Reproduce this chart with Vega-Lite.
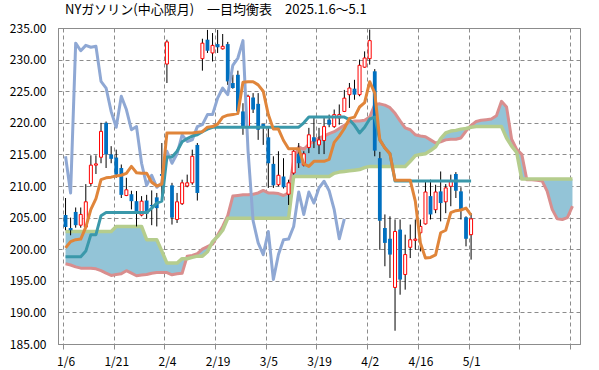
{
"$schema": "https://vega.github.io/schema/vega-lite/v6.json",
"width": 522, "height": 316,
"autosize": "none",
"padding": {"left": 58, "top": 28, "right": 19, "bottom": 26},
"background": "white",
"title": {"text": "NYガソリン(中心限月)　一目均衡表　2025.1.6～5.1", "anchor": "start", "frame": "group", "dx": 7, "offset": 5, "fontSize": 13, "fontWeight": "normal", "font": "Noto Sans CJK JP", "color": "#000000"},
"config": {"view": {"stroke": "#8c8c8c", "strokeWidth": 1},
  "axisY": {"labelFont": "Noto Sans CJK JP", "labelFontSize": 12, "labelColor": "#000000", "ticks": false, "labelPadding": 12,
        "grid": true, "gridColor": "#8c8c8c", "gridDash": [4, 3], "gridWidth": 1, "domainColor": "#8c8c8c", "tickCount": 10}},
"data": {"values": [
{"i":0,"o":205.4,"h":208.1,"l":203.0,"c":203.5,"tk":200.2,"kj":198.8,"ck":214.7,"sa":197.7,"sb":202.8},
{"i":1,"o":203.35,"h":205.0,"l":202.2,"c":203.0,"tk":201.2,"kj":198.8,"ck":208.9,"sa":197.5,"sb":202.8},
{"i":2,"o":205.9,"h":206.6,"l":203.4,"c":203.8,"tk":201.5,"kj":198.8,"ck":232.6,"sa":197.2,"sb":202.8},
{"i":3,"o":203.8,"h":206.6,"l":203.4,"c":205.5,"tk":201.6,"kj":198.8,"ck":231.4,"sa":197.0,"sb":202.8},
{"i":4,"o":203.5,"h":210.3,"l":203.4,"c":207.5,"tk":203.5,"kj":199.7,"ck":232.25,"sa":197.0,"sb":202.8},
{"i":5,"o":210.4,"h":214.85,"l":209.95,"c":213.3,"tk":206.3,"kj":202.3,"ck":231.95,"sa":197.0,"sb":202.8},
{"i":6,"o":213.3,"h":214.85,"l":211.9,"c":213.5,"tk":208.0,"kj":202.3,"ck":232.1,"sa":196.9,"sb":202.8},
{"i":7,"o":214.55,"h":220.0,"l":213.6,"c":218.65,"tk":211.0,"kj":205.3,"ck":226.55,"sa":196.6,"sb":202.8},
{"i":8,"o":220.0,"h":220.2,"l":212.85,"c":215.0,"tk":211.3,"kj":205.8,"ck":225.5,"sa":196.2,"sb":202.8},
{"i":9,"o":215.0,"h":216.3,"l":213.6,"c":214.3,"tk":211.4,"kj":205.8,"ck":221.8,"sa":195.85,"sb":202.8},
{"i":10,"o":214.5,"h":215.75,"l":211.3,"c":211.8,"tk":211.6,"kj":205.8,"ck":219.3,"sa":196.0,"sb":203.6},
{"i":11,"o":212.85,"h":213.4,"l":208.1,"c":208.6,"tk":211.7,"kj":205.8,"ck":224.2,"sa":196.1,"sb":203.6},
{"i":12,"o":208.5,"h":211.3,"l":208.4,"c":209.4,"tk":212.0,"kj":205.8,"ck":222.1,"sa":196.6,"sb":203.6},
{"i":13,"o":208.7,"h":209.25,"l":206.3,"c":207.6,"tk":213.1,"kj":205.8,"ck":218.9,"sa":196.2,"sb":203.6},
{"i":14,"o":207.6,"h":209.2,"l":203.6,"c":206.0,"tk":212.1,"kj":205.8,"ck":219.4,"sa":195.8,"sb":203.6},
{"i":15,"o":205.4,"h":208.4,"l":205.2,"c":207.6,"tk":212.0,"kj":205.8,"ck":213.6,"sa":195.9,"sb":203.6},
{"i":16,"o":207.7,"h":208.6,"l":204.8,"c":205.6,"tk":212.0,"kj":205.8,"ck":210.1,"sa":196.0,"sb":201.5},
{"i":17,"o":207.0,"h":209.3,"l":203.8,"c":206.8,"tk":210.6,"kj":206.5,"ck":211.7,"sa":196.2,"sb":201.5},
{"i":18,"o":208.2,"h":208.9,"l":203.6,"c":206.5,"tk":210.0,"kj":207.3,"ck":209.8,"sa":196.3,"sb":201.5},
{"i":19,"o":211.9,"h":216.8,"l":207.5,"c":211.6,"tk":210.3,"kj":207.6,"ck":210.5,"sa":196.3,"sb":199.7},
{"i":20,"o":229.3,"h":233.15,"l":226.3,"c":232.8,"tk":218.4,"kj":214.6,"ck":215.5,"sa":196.3,"sb":197.8},
{"i":21,"o":210.1,"h":210.5,"l":203.9,"c":205.0,"tk":218.4,"kj":214.6,"ck":213.6,"sa":195.95,"sb":197.8},
{"i":22,"o":204.7,"h":208.9,"l":204.15,"c":207.5,"tk":218.4,"kj":215.5,"ck":215.1,"sa":196.1,"sb":197.8},
{"i":23,"o":207.2,"h":211.0,"l":207.0,"c":210.5,"tk":218.4,"kj":217.0,"ck":218.1,"sa":196.2,"sb":198.5},
{"i":24,"o":210.0,"h":211.8,"l":209.8,"c":210.5,"tk":218.4,"kj":217.5,"ck":217.05,"sa":198.9,"sb":198.5},
{"i":25,"o":210.5,"h":215.75,"l":210.2,"c":214.7,"tk":218.4,"kj":217.9,"ck":217.3,"sa":199.0,"sb":198.7},
{"i":26,"o":216.5,"h":216.8,"l":207.7,"c":208.9,"tk":218.5,"kj":218.1,"ck":219.4,"sa":199.3,"sb":198.9},
{"i":27,"o":230.15,"h":233.3,"l":228.25,"c":232.6,"tk":218.6,"kj":218.6,"ck":219.7,"sa":200.0,"sb":198.9},
{"i":28,"o":233.15,"h":234.7,"l":231.05,"c":231.4,"tk":219.3,"kj":219.0,"ck":221.3,"sa":200.4,"sb":199.6},
{"i":29,"o":231.05,"h":234.2,"l":229.7,"c":232.25,"tk":219.4,"kj":219.3,"ck":221.3,"sa":200.8,"sb":201.2},
{"i":30,"o":232.45,"h":234.7,"l":231.05,"c":231.95,"tk":219.8,"kj":219.3,"ck":223.9,"sa":202.2,"sb":202.0},
{"i":31,"o":231.7,"h":234.05,"l":231.6,"c":232.1,"tk":220.9,"kj":219.3,"ck":225.5,"sa":203.6,"sb":203.0},
{"i":32,"o":232.45,"h":232.8,"l":226.0,"c":226.55,"tk":221.2,"kj":219.3,"ck":224.45,"sa":205.3,"sb":204.9},
{"i":33,"o":226.3,"h":227.6,"l":225.4,"c":225.5,"tk":221.3,"kj":219.3,"ck":229.1,"sa":208.4,"sb":204.9},
{"i":34,"o":227.6,"h":228.25,"l":221.3,"c":221.8,"tk":221.5,"kj":219.3,"ck":230.25,"sa":208.5,"sb":204.9},
{"i":35,"o":221.8,"h":223.1,"l":218.1,"c":219.3,"tk":226.4,"kj":219.3,"ck":233.0,"sa":208.6,"sb":204.9},
{"i":36,"o":219.3,"h":224.45,"l":219.2,"c":224.2,"tk":226.5,"kj":219.3,"ck":215.6,"sa":208.6,"sb":204.9},
{"i":37,"o":224.0,"h":224.7,"l":221.55,"c":222.1,"tk":226.5,"kj":219.3,"ck":204.5,"sa":208.7,"sb":204.9},
{"i":38,"o":223.0,"h":224.7,"l":217.3,"c":218.9,"tk":226.0,"kj":219.3,"ck":201.0,"sa":208.9,"sb":204.9},
{"i":39,"o":219.8,"h":219.8,"l":216.5,"c":219.4,"tk":225.0,"kj":219.3,"ck":199.15,"sa":209.3,"sb":204.9},
{"i":40,"o":217.7,"h":219.2,"l":209.7,"c":213.6,"tk":221.3,"kj":219.3,"ck":202.8,"sa":208.9,"sb":204.9},
{"i":41,"o":213.5,"h":214.7,"l":209.7,"c":210.1,"tk":219.0,"kj":219.3,"ck":195.2,"sa":208.9,"sb":204.9},
{"i":42,"o":210.2,"h":215.5,"l":209.95,"c":211.7,"tk":219.0,"kj":219.3,"ck":199.15,"sa":208.8,"sb":204.9},
{"i":43,"o":211.5,"h":214.4,"l":209.6,"c":209.8,"tk":217.2,"kj":219.3,"ck":201.5,"sa":208.5,"sb":204.9},
{"i":44,"o":208.7,"h":211.0,"l":207.0,"c":210.5,"tk":215.9,"kj":219.3,"ck":201.6,"sa":208.9,"sb":204.9},
{"i":45,"o":212.05,"h":215.75,"l":211.8,"c":215.5,"tk":215.9,"kj":219.3,"ck":203.6,"sa":214.0,"sb":211.5},
{"i":46,"o":215.1,"h":216.8,"l":212.85,"c":213.6,"tk":215.9,"kj":219.3,"ck":209.05,"sa":216.2,"sb":211.5},
{"i":47,"o":213.3,"h":215.5,"l":213.1,"c":215.1,"tk":213.5,"kj":220.0,"ck":205.5,"sa":215.8,"sb":211.5},
{"i":48,"o":216.1,"h":219.2,"l":215.2,"c":218.1,"tk":213.1,"kj":220.9,"ck":209.05,"sa":216.6,"sb":211.5},
{"i":49,"o":217.7,"h":220.75,"l":216.0,"c":217.05,"tk":213.9,"kj":220.9,"ck":207.3,"sa":217.1,"sb":211.5},
{"i":50,"o":216.5,"h":219.2,"l":215.05,"c":217.3,"tk":213.9,"kj":220.9,"ck":209.7,"sa":217.6,"sb":211.5},
{"i":51,"o":217.2,"h":220.75,"l":215.05,"c":219.4,"tk":213.9,"kj":220.9,"ck":210.75,"sa":217.9,"sb":211.5},
{"i":52,"o":220.5,"h":221.3,"l":219.3,"c":219.7,"tk":214.2,"kj":220.9,"ck":209.25,"sa":218.3,"sb":211.5},
{"i":53,"o":219.4,"h":222.1,"l":219.2,"c":221.3,"tk":216.9,"kj":220.9,"ck":206.25,"sa":218.6,"sb":212.0},
{"i":54,"o":220.75,"h":222.9,"l":219.7,"c":221.3,"tk":217.9,"kj":220.9,"ck":201.65,"sa":219.1,"sb":212.2},
{"i":55,"o":221.8,"h":225.2,"l":221.7,"c":223.9,"tk":219.1,"kj":220.9,"ck":204.8,"sa":219.6,"sb":212.3},
{"i":56,"o":224.45,"h":226.3,"l":222.35,"c":225.5,"tk":220.7,"kj":220.5,"sa":220.1,"sb":212.4},
{"i":57,"o":225.4,"h":226.8,"l":223.65,"c":224.45,"tk":220.9,"kj":219.6,"sa":220.3,"sb":212.5},
{"i":58,"o":224.45,"h":230.0,"l":224.2,"c":229.1,"tk":222.5,"kj":218.4,"sa":220.3,"sb":212.6},
{"i":59,"o":228.8,"h":231.3,"l":228.7,"c":230.25,"tk":223.2,"kj":219.3,"sa":220.4,"sb":212.9},
{"i":60,"o":230.15,"h":234.75,"l":229.2,"c":233.0,"tk":226.5,"kj":220.6,"sa":220.9,"sb":213.1},
{"i":61,"o":228.15,"h":228.5,"l":214.7,"c":215.6,"tk":224.7,"kj":220.9,"sa":222.9,"sb":213.1},
{"i":62,"o":214.4,"h":215.4,"l":199.9,"c":204.5,"tk":217.3,"kj":217.3,"sa":223.0,"sb":213.1},
{"i":63,"o":203.35,"h":205.5,"l":197.3,"c":201.0,"tk":216.0,"kj":216.0,"sa":222.8,"sb":213.1},
{"i":64,"o":201.65,"h":205.2,"l":195.45,"c":199.15,"tk":215.1,"kj":215.1,"sa":222.4,"sb":213.1},
{"i":65,"o":193.95,"h":204.7,"l":187.1,"c":202.8,"tk":210.9,"kj":210.8,"sa":221.5,"sb":213.1},
{"i":66,"o":203.1,"h":204.7,"l":192.8,"c":195.2,"tk":210.9,"kj":210.8,"sa":220.3,"sb":213.1},
{"i":67,"o":196.0,"h":202.3,"l":193.6,"c":199.15,"tk":210.9,"kj":210.8,"sa":219.2,"sb":213.1},
{"i":68,"o":200.3,"h":203.9,"l":198.6,"c":201.5,"tk":210.9,"kj":210.8,"sa":218.9,"sb":213.9},
{"i":69,"o":201.4,"h":204.7,"l":199.9,"c":201.6,"tk":207.6,"kj":210.8,"sa":218.1,"sb":214.8},
{"i":70,"o":202.6,"h":204.7,"l":199.65,"c":203.6,"tk":201.0,"kj":210.8,"sa":217.9,"sb":215.0},
{"i":71,"o":204.0,"h":210.7,"l":203.9,"c":209.05,"tk":198.6,"kj":210.8,"sa":217.8,"sb":215.1},
{"i":72,"o":208.4,"h":211.0,"l":204.7,"c":205.5,"tk":198.7,"kj":210.8,"sa":217.3,"sb":215.6},
{"i":73,"o":206.25,"h":210.2,"l":205.7,"c":209.05,"tk":199.1,"kj":210.8,"sa":216.8,"sb":216.2},
{"i":74,"o":209.15,"h":212.3,"l":204.4,"c":207.3,"tk":202.6,"kj":210.8,"sa":217.0,"sb":217.5},
{"i":75,"o":207.5,"h":210.3,"l":205.7,"c":209.7,"tk":203.0,"kj":210.8,"sa":217.3,"sb":218.4},
{"i":76,"o":209.95,"h":211.8,"l":206.8,"c":210.75,"tk":205.8,"kj":210.8,"sa":217.4,"sb":218.7},
{"i":77,"o":211.9,"h":212.2,"l":208.1,"c":209.25,"tk":206.1,"kj":210.8,"sa":217.4,"sb":218.8},
{"i":78,"o":209.15,"h":209.8,"l":204.7,"c":206.25,"tk":206.2,"kj":210.8,"sa":217.6,"sb":219.0},
{"i":79,"o":205.05,"h":205.2,"l":200.45,"c":201.65,"tk":206.5,"kj":210.8,"sa":218.7,"sb":219.1},
{"i":80,"o":202.3,"h":205.7,"l":198.35,"c":204.8,"tk":205.4,"kj":210.8,"sa":219.6,"sb":219.3},
{"i":81,"sa":220.2,"sb":219.4},
{"i":82,"sa":220.4,"sb":219.4},
{"i":83,"sa":220.5,"sb":219.4},
{"i":84,"sa":220.6,"sb":219.4},
{"i":85,"sa":221.1,"sb":219.4},
{"i":86,"sa":223.4,"sb":219.4},
{"i":87,"sa":222.5,"sb":217.6},
{"i":88,"sa":217.4,"sb":216.3},
{"i":89,"sa":215.8,"sb":215.3},
{"i":90,"sa":215.0,"sb":211.1},
{"i":91,"sa":211.0,"sb":211.1},
{"i":92,"sa":211.0,"sb":211.1},
{"i":93,"sa":210.9,"sb":211.1},
{"i":94,"sa":210.8,"sb":211.1},
{"i":95,"sa":209.2,"sb":211.1},
{"i":96,"sa":206.3,"sb":211.1},
{"i":97,"sa":204.8,"sb":211.1},
{"i":98,"sa":204.7,"sb":211.1},
{"i":99,"sa":205.0,"sb":211.1},
{"i":100,"sa":206.8,"sb":211.1}
]},
"encoding": {
  "x": {"field": "i", "type": "quantitative", "scale": {"domain": [-0.5, 100.5], "nice": false, "zero": false},
    "axis": {"title": null, "values": [-0.5, 9.5, 19.5, 29.5, 39.5, 49.5, 59.5, 69.5, 79.5, 89.5, 99.5],
      "labelExpr": "['1/6','1/21','2/4','2/19','3/5','3/19','4/2','4/16','5/1','',''][round((datum.value+0.5)/10)]",
      "labelOffset": 2.6, "labelFlush": false, "labelOverlap": false, "labelBound": false,
      "labelFont": "Noto Sans CJK JP", "labelFontSize": 12, "labelColor": "#000000", "labelPadding": 7,
      "grid": true, "gridColor": "#8c8c8c", "gridDash": [4, 3], "gridWidth": 1,
      "ticks": true, "tickSize": 5, "tickColor": "#8c8c8c", "domainColor": "#8c8c8c"}}
},
"layer": [
  {"mark": {"type": "area", "color": "#93C4D7", "opacity": 1},
   "encoding": {"y": {"field": "sa", "type": "quantitative", "title": null, "scale": {"domain": [185, 235], "nice": false, "zero": false}, "axis": {"format": ".2f"}},
     "y2": {"field": "sb"}}},
  {"mark": {"type": "line", "color": "#D98E8E", "strokeWidth": 3, "strokeJoin": "round"},
   "encoding": {"y": {"field": "sa", "type": "quantitative", "title": null, "axis": {"format": ".2f"}}}},
  {"mark": {"type": "line", "color": "#B5CD8D", "strokeWidth": 3.5, "strokeJoin": "round"},
   "encoding": {"y": {"field": "sb", "type": "quantitative", "title": null, "axis": {"format": ".2f"}}}},
  {"transform": [{"filter": "isValid(datum.h)"}],
   "mark": {"type": "rule", "color": "#000000", "strokeWidth": 1},
   "encoding": {"y": {"field": "l", "type": "quantitative", "title": null, "axis": {"format": ".2f"}}, "y2": {"field": "h"}}},
  {"transform": [{"filter": "isValid(datum.c) && datum.c >= datum.o"}],
   "mark": {"type": "bar", "width": 3, "fill": "#ffffff", "stroke": "#ff0000", "strokeWidth": 1},
   "encoding": {"y": {"field": "o", "type": "quantitative", "title": null, "axis": {"format": ".2f"}}, "y2": {"field": "c"}}},
  {"transform": [{"filter": "isValid(datum.c) && datum.c < datum.o"}],
   "mark": {"type": "bar", "width": 3.8, "fill": "#0070C0", "stroke": null},
   "encoding": {"y": {"field": "o", "type": "quantitative", "title": null, "axis": {"format": ".2f"}}, "y2": {"field": "c"}}},
  {"mark": {"type": "line", "color": "#8FA8D4", "strokeWidth": 3, "strokeJoin": "round"},
   "encoding": {"y": {"field": "ck", "type": "quantitative", "title": null, "axis": {"format": ".2f"}}}},
  {"mark": {"type": "line", "color": "#3A98AA", "strokeWidth": 3, "strokeJoin": "round"},
   "encoding": {"y": {"field": "kj", "type": "quantitative", "title": null, "axis": {"format": ".2f"}}}},
  {"mark": {"type": "line", "color": "#E0853A", "strokeWidth": 3, "strokeJoin": "round"},
   "encoding": {"y": {"field": "tk", "type": "quantitative", "title": null, "axis": {"format": ".2f"}}}}
]
}
